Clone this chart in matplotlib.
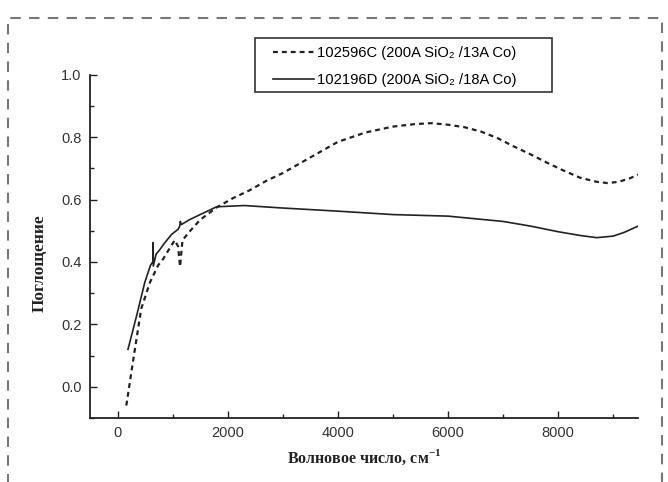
"""absorbance spectra of two SiO2/Co samples"""

import matplotlib
matplotlib.use('Agg')
import matplotlib.pyplot as plt
from matplotlib.patches import Rectangle
from matplotlib.ticker import MultipleLocator

# 102596C (200A SiO2 / 13A Co)
wavenumber_c = [160, 280, 430, 590, 740, 830, 950, 1040, 1100, 1135, 1180,
                1320, 1500, 1800, 2100, 2400, 2700, 3000, 3500, 4000, 4500,
                5000, 5400, 5700, 6000, 6300, 6600, 6900, 7200, 7500, 7800,
                8100, 8400, 8700, 8900, 9100, 9300, 9450]
absorb_c = [-0.06, 0.08, 0.25, 0.335, 0.39, 0.41, 0.445, 0.47, 0.45, 0.385,
            0.47, 0.50, 0.535, 0.575, 0.605, 0.63, 0.66, 0.685, 0.735, 0.785,
            0.815, 0.834, 0.842, 0.845, 0.84, 0.832, 0.818, 0.797, 0.77,
            0.745, 0.718, 0.693, 0.67, 0.657, 0.653, 0.657, 0.668, 0.68]

# 102196D (200A SiO2 / 18A Co)
wavenumber_d = [190, 350, 494, 600, 640, 646, 650, 700, 770, 850, 980, 1100,
                1130, 1140, 1160, 1300, 1500, 1800, 2300, 3000, 4000, 5000,
                6000, 7000, 7500, 8000, 8400, 8700, 9000, 9200, 9450]
absorb_d = [0.12, 0.23, 0.334, 0.39, 0.40, 0.462, 0.387, 0.425, 0.44, 0.46,
            0.488, 0.505, 0.515, 0.53, 0.52, 0.535, 0.552, 0.577, 0.581,
            0.573, 0.563, 0.552, 0.547, 0.53, 0.515, 0.497, 0.485, 0.478,
            0.483, 0.495, 0.515]

label_c = '102596C (200A SiO\u2082 /13A Co)'
label_d = '102196D (200A SiO\u2082 /18A Co)'

plt.rcParams['mathtext.fontset'] = 'custom'
plt.rcParams['mathtext.rm'] = 'Liberation Serif:bold'
plt.rcParams['mathtext.bf'] = 'Liberation Serif:bold'

fig = plt.figure(figsize=(6.68, 4.82), dpi=100)
ax = fig.add_axes([0.1347, 0.1328, 0.8204, 0.712])

line_c, = ax.plot(wavenumber_c, absorb_c, color='#222222', lw=1.6,
                  linestyle=(0, (2.2, 1.8)))
line_d, = ax.plot(wavenumber_d, absorb_d, color='#222222', lw=1.2)

ax.set_xlim(-500, 9450)
ax.set_ylim(-0.1, 1.0)
ax.xaxis.set_major_locator(MultipleLocator(2000))
ax.xaxis.set_minor_locator(MultipleLocator(1000))
ax.yaxis.set_major_locator(MultipleLocator(0.2))
ax.yaxis.set_minor_locator(MultipleLocator(0.1))
ax.yaxis.set_major_formatter(plt.FuncFormatter(lambda v, p: f'{v:.1f}'))

for side in ('top', 'right'):
    ax.spines[side].set_visible(False)
for side in ('left', 'bottom'):
    ax.spines[side].set_linewidth(1.3)
    ax.spines[side].set_color('#222222')

ax.tick_params(which='both', direction='in', colors='#222222',
               labelsize=10.5, labelcolor='#333333', width=1.0)
ax.tick_params(which='major', length=5, pad=6)
ax.tick_params(which='minor', length=3)
for lbl in ax.get_xticklabels() + ax.get_yticklabels():
    lbl.set_family('Liberation Sans')

ax.set_xlabel('Волновое число, см$^{-1}$', family='Liberation Serif',
              fontweight='bold', fontsize=11.5, color='#222222', labelpad=5)
ax.set_ylabel('Поглощение', family='Liberation Serif', fontweight='bold',
              fontsize=12.5, color='#222222')
ax.yaxis.set_label_coords(-0.078, 0.45)

# legend with a hand-drawn frame
fig.legend([line_c, line_d], [label_c, label_d], loc='upper left',
           bbox_to_anchor=(0.397, 0.919), frameon=False,
           handlelength=2.8, handletextpad=0.2, labelspacing=0.85,
           borderpad=0.0,
           prop={'family': ['Liberation Sans', 'DejaVu Sans'], 'size': 10.6})
fig.patches.append(Rectangle((0.382, 0.809), 0.444, 0.112,
                             transform=fig.transFigure, fill=False,
                             edgecolor='#333333', lw=1.2))

# dashed page border
fig.patches.append(Rectangle((0.012, -0.02), 0.979, 0.983,
                             transform=fig.transFigure, fill=False,
                             edgecolor='#777777', lw=1.5,
                             linestyle=(0, (5, 4))))

fig.savefig('out.png', dpi=100)
